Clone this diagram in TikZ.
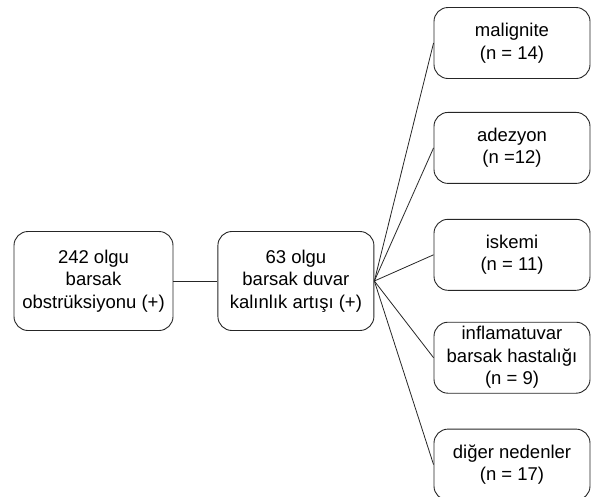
\documentclass[tikz,border=0pt]{standalone}
\usepackage{fontspec}
\setmainfont{Liberation Sans}
\usetikzlibrary{positioning}

\begin{document}
\begin{tikzpicture}[
        x=1pt, y=1pt,
        node distance=33pt,
        casebox/.style={
            rectangle,
            rounded corners=14pt,
            draw=black!85,
            line width=0.9pt,
            align=center,
            inner sep=2pt,
            font=\fontsize{18.5}{22.5}\selectfont
        },
        mainbox/.style={
            casebox,
            minimum height=99pt
        },
        causebox/.style={
            casebox,
            minimum width=156pt,
            minimum height=71pt
        },
        link/.style={
            draw=black!85,
            line width=0.8pt
        }
    ]
        \useasboundingbox (0,0) rectangle (591,-496);

        \node (total) [mainbox, minimum width=159pt] at (93.5,-281) {242 olgu\\barsak\\obstrüksiyonu (+)};
        \node (wall) [mainbox, minimum width=156pt, right=44pt of total] {63 olgu\\barsak duvar\\kalınlık artışı (+)};

        \node (malign) [causebox] at (512,-43) {malignite\\(n = 14)};
        \node (adhesion) [causebox, below=33pt of malign] {adezyon\\(n =12)};
        \node (ischemia) [causebox, below=35pt of adhesion] {iskemi\\(n = 11)};
        \node (ibd) [causebox, below=31pt of ischemia] {inflamatuvar\\barsak hastalığı\\(n = 9)};
        \node (other) [causebox, below=35pt of ibd] {diğer nedenler\\(n = 17)};

        \draw [link] (total) -- (wall);
        \foreach \cause in {malign, adhesion, ischemia, ibd, other}
            \draw [link] (wall.east) -- (\cause.west);

    \end{tikzpicture}
\end{document}
